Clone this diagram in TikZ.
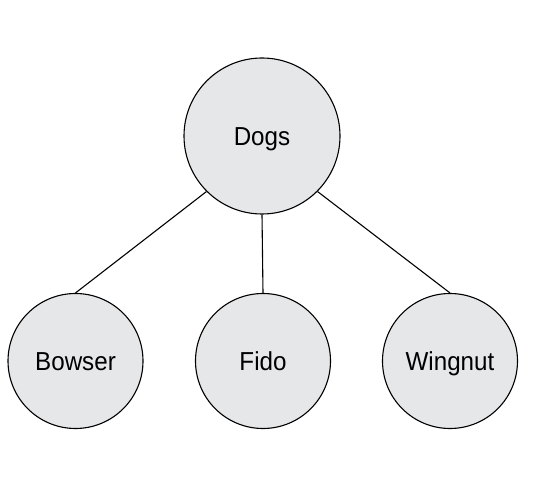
\documentclass[tikz,border=0pt]{standalone}
\usepackage{fontspec}
\setmainfont{Liberation Sans}
\definecolor{nodefill}{HTML}{E6E7E8}
\begin{document}
\begin{tikzpicture}[x=1pt,y=-1pt,
  treenode/.style={circle,draw=black,line width=1.1pt,fill=nodefill,inner sep=0pt,
    text height=18.6pt,text depth=0pt,
    font=\fontsize{26}{30}\selectfont},
  link/.style={line width=1.1pt}]
\useasboundingbox (0,0) rectangle (544,489);
\node[treenode,minimum size=156pt] (dogs) at (262,136) {\scalebox{0.93}[1]{Dogs}};
\node[treenode,minimum size=135pt] (bowser) at (75.5,361) {\scalebox{0.93}[1]{Bowser}};
\node[treenode,minimum size=135pt] (fido) at (263,361) {\scalebox{0.93}[1]{Fido}};
\node[treenode,minimum size=135pt] (wingnut) at (450,361) {\scalebox{0.93}[1]{Wingnut}};
\draw[link] (dogs.south west) -- (bowser.north);
\draw[link] (dogs.south) -- (fido.north);
\draw[link] (dogs.south east) -- (wingnut.north);
\end{tikzpicture}
\end{document}
